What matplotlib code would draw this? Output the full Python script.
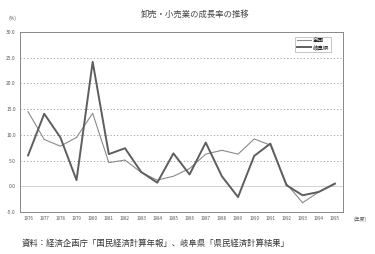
import numpy as np
import matplotlib
matplotlib.use("Agg")
import matplotlib.pyplot as plt

plt.rcParams['font.family'] = ['Noto Sans CJK JP', 'DejaVu Sans']

years = list(range(1976, 1996))
zenkoku = [14.5, 9.1, 7.8, 9.5, 14.2, 4.6, 5.1, 2.7, 1.2, 1.95,
           3.45, 6.25, 7.0, 6.25, 9.2, 8.0, 0.5, -3.2, -1.1, 0.6]
gifu = [6.0, 14.1, 9.5, 1.2, 24.2, 6.25, 7.4, 2.8, 0.7, 6.4,
        2.3, 8.5, 1.95, -2.1, 5.9, 8.3, 0.2, -1.75, -1.1, 0.5]
yticks = [-5.0, 0.0, 5.0, 10.0, 15.0, 20.0, 25.0, 30.0]

fig = plt.figure(figsize=(3.75, 2.54), dpi=100)
ax = fig.add_axes([20 / 375, 1 - 212 / 254, 323 / 375, 180 / 254])

x = np.arange(len(years))
ax.plot(x, zenkoku, color='#8a8a8a', lw=0.8, label='全国')
ax.plot(x, gifu, color='#5e5e5e', lw=1.4, label='岐阜県')

for v in yticks[2:-1]:
    ax.axhline(v, color='#999999', lw=0.6, ls=(0, (1.5, 2.5)), zorder=0)
ax.axhline(0, color='#cccccc', lw=0.6, zorder=0)

ax.set_xlim(-0.5, len(years) - 0.5)
ax.set_ylim(-5, 30)
ax.set_yticks(yticks)
ax.set_yticklabels([f'{v:.1f}' for v in yticks], fontsize=3.5, color='#555555')
ax.set_xticks(x)
ax.set_xticklabels([str(y) for y in years], fontsize=3.2, color='#555555')
ax.tick_params(length=0, pad=3)
for s in ax.spines.values():
    s.set_color('#888888')
    s.set_linewidth(0.7)

leg = ax.legend(loc='upper right', bbox_to_anchor=(0.97, 0.99), fontsize=4,
                frameon=True, fancybox=False, edgecolor='#999999',
                handlelength=2.5, borderpad=0.3, labelspacing=0.2,
                handletextpad=0.3)
leg.get_frame().set_linewidth(0.5)

fig.text(195 / 375, 1 - 14 / 254, '卸売・小売業の成長率の推移', ha='center',
         va='center', fontsize=6, color='#444444')
fig.text(12 / 375, 1 - 18 / 254, '(%)', ha='center', va='center',
         fontsize=3.5, color='#555555')
fig.text(360 / 375, 1 - 219 / 254, '(年度)', ha='center', va='center',
         fontsize=3.5, color='#555555')
fig.text(22 / 375, 1 - 243 / 254,
         '資料：経済企画庁「国民経済計算年報」、岐阜県「県民経済計算結果」',
         ha='left', va='center', fontsize=6, color='#333333')

fig.savefig('out.png', dpi=100, facecolor='white')
